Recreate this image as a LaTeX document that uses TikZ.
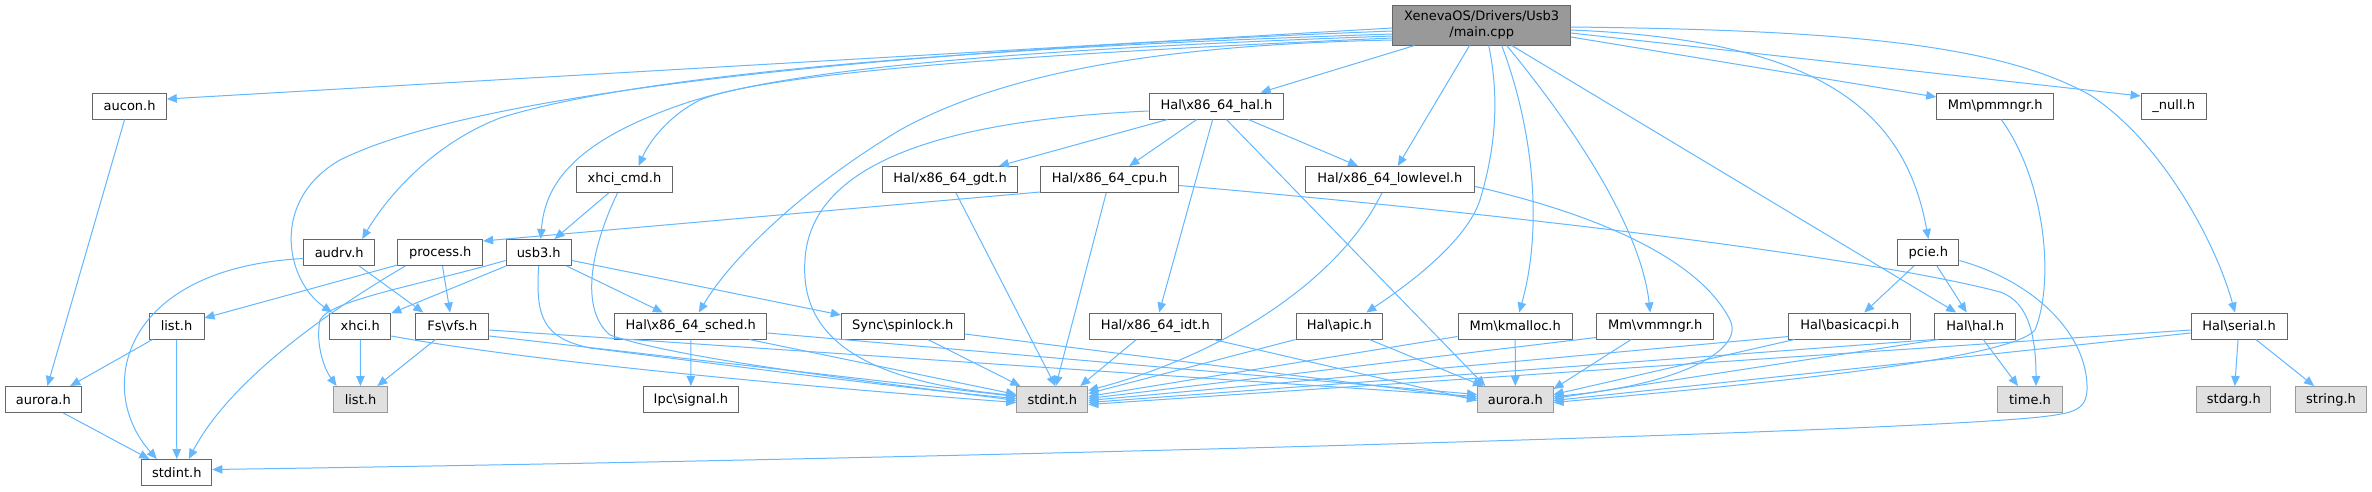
\documentclass[tikz,border=0pt]{standalone}
\usepackage{fontspec}
\setmainfont{DejaVu Sans}
\usetikzlibrary{arrows.meta,calc}
\definecolor{edgeblue}{HTML}{63B8FF}
\definecolor{bordA}{HTML}{666666}
\definecolor{bordB}{HTML}{999999}
\definecolor{fillG}{HTML}{E0E0E0}
\definecolor{fillM}{HTML}{999999}
\newcommand{\mybs}{\textbackslash{}}
\tikzset{
  filenode/.style={draw=bordA, line width=1pt, fill=white, minimum height=26pt,
    inner xsep=2pt, inner ysep=0pt, font=\fontsize{13}{16}\selectfont, text=black},
  sysnode/.style={filenode, draw=bordB, fill=fillG},
  curnode/.style={filenode, fill=fillM, minimum height=40pt, align=center},
  dep/.style={draw=edgeblue, line width=1pt, -{Triangle[length=10pt,width=8.5pt]}},
}
\begin{document}
\begin{tikzpicture}[x=1pt,y=-1pt]
\useasboundingbox (0,0) rectangle (2372,491);
\fill[white] (0,0) rectangle (2372,491);
% row 0
\node[curnode, minimum width=177.5pt] (main) at (1481.7,25) {XenevaOS/Drivers/Usb3\\/main.cpp};
% row 1
\node[filenode, minimum width=73.4pt] (aucon) at (129.6,106) {aucon.h};
\node[filenode, minimum width=134.7pt] (hal64) at (1216.4,106) {Hal\mybs x86\_64\_hal.h};
\node[filenode, minimum width=117pt] (pmmngr) at (1995.2,106) {Mm\mybs pmmngr.h};
\node[filenode, minimum width=65.2pt] (null) at (2173.7,106) {\_null.h};
% row 2
\node[filenode, minimum width=96pt] (xhcicmd) at (624.5,179.5) {xhci\_cmd.h};
\node[filenode, minimum width=134.6pt] (gdt) at (950,179.5) {Hal/x86\_64\_gdt.h};
\node[filenode, minimum width=137.8pt] (cpu) at (1109.7,179.5) {Hal/x86\_64\_cpu.h};
\node[filenode, minimum width=169.5pt] (lowlevel) at (1389.8,179.5) {Hal/x86\_64\_lowlevel.h};
% row 3
\node[filenode, minimum width=70.5pt] (audrv) at (339.2,252.5) {audrv.h};
\node[filenode, minimum width=84.7pt] (process) at (440.3,252.5) {process.h};
\node[filenode, minimum width=65.4pt] (usb3) at (538.7,252.5) {usb3.h};
\node[filenode, minimum width=61pt] (pcie) at (1928.4,252.5) {pcie.h};
% row 4
\node[filenode, minimum width=55pt] (listW) at (176.5,326) {list.h};
\node[filenode, minimum width=61.2pt] (xhci) at (360.2,326) {xhci.h};
\node[filenode, minimum width=73pt] (vfs) at (452.3,326) {Fs\mybs vfs.h};
\node[filenode, minimum width=152pt] (sched) at (690.8,326) {Hal\mybs x86\_64\_sched.h};
\node[filenode, minimum width=123pt] (spinlock) at (902.8,326) {Sync\mybs spinlock.h};
\node[filenode, minimum width=131.2pt] (idt) at (1155.4,326) {Hal/x86\_64\_idt.h};
\node[filenode, minimum width=86.6pt] (apic) at (1339.3,326) {Hal\mybs apic.h};
\node[filenode, minimum width=114.4pt] (kmalloc) at (1515.2,326) {Mm\mybs kmalloc.h};
\node[filenode, minimum width=117.3pt] (vmmngr) at (1655.2,326) {Mm\mybs vmmngr.h};
\node[filenode, minimum width=121.8pt] (basicacpi) at (1849.8,326) {Hal\mybs basicacpi.h};
\node[filenode, minimum width=81pt] (halh) at (1975.2,326) {Hal\mybs hal.h};
\node[filenode, minimum width=96pt] (serial) at (2239,326) {Hal\mybs serial.h};
% row 5
\node[filenode, minimum width=76.6pt] (auroraW) at (43.4,399.5) {aurora.h};
\node[sysnode, minimum width=54.8pt] (listG) at (360.5,399.5) {list.h};
\node[filenode, minimum width=95.8pt] (signal) at (690.9,399.5) {Ipc\mybs signal.h};
\node[sysnode, minimum width=71pt] (stdintG) at (1052.3,399.5) {stdint.h};
\node[sysnode, minimum width=75.4pt] (auroraG) at (1515.3,399.5) {aurora.h};
\node[sysnode, minimum width=64.2pt] (time) at (2030,399.5) {time.h};
\node[sysnode, minimum width=74.2pt] (stdarg) at (2233.8,399.5) {stdarg.h};
\node[sysnode, minimum width=70.7pt] (string) at (2331,399.5) {string.h};
% row 6
\node[filenode, minimum width=70pt] (stdintW) at (176.8,472.5) {stdint.h};

% ---- edges from main.cpp
\draw[dep] ($(main.west)+(0,3)$) -- ($(aucon.east)+(0,-7)$);
\draw[dep] ($(main.west)+(0,6)$) .. controls (900,50) and (480,90) .. (340,160) .. controls (270,200) and (285,280) .. ($(xhci.north west)+(3,0)$);
\draw[dep] ($(main.west)+(0,9)$) .. controls (900,50) and (620,80) .. (500,118) .. controls (430,145) and (385,200) .. ($(audrv.north)+(23,0)$);
\draw[dep] ($(main.west)+(0,11)$) .. controls (1000,50) and (780,70) .. (680,105) .. controls (580,140) and (545,180) .. ($(usb3.north)+(2,0)$);
\draw[dep] ($(main.west)+(0,13)$) .. controls (1000,55) and (760,75) .. (700,100) .. controls (670,115) and (650,140) .. ($(xhcicmd.north)+(14,0)$);
\draw[dep] ($(main.west)+(0,15)$) .. controls (1150,45) and (1000,75) .. (900,130) .. controls (800,190) and (730,260) .. ($(sched.north)+(8,0)$);
\draw[dep] (main) -- (hal64);
\draw[dep] (main) -- (lowlevel);
\draw[dep] ($(main.south)+(7,0)$) .. controls (1500,100) and (1495,150) .. (1480,200) .. controls (1465,245) and (1400,290) .. ($(apic.north)+(27,0)$);
\draw[dep] ($(main.south)+(20,0)$) .. controls (1530,120) and (1545,220) .. ($(kmalloc.north)+(4,0)$);
\draw[dep] ($(main.south)+(25,0)$) .. controls (1560,110) and (1640,220) .. ($(vmmngr.north)+(-5,0)$);
\draw[dep] ($(main.south)+(30,0)$) -- ($(halh.north)+(-19,0)$);
\draw[dep] ($(main.east)+(0,5)$) .. controls (1820,40) and (1905,110) .. (pcie.north);
\draw[dep] ($(main.east)+(0,12)$) -- ($(pmmngr.west)+(0,-9)$);
\draw[dep] ($(main.east)+(0,8)$) -- ($(null.west)+(0,-10)$);
\draw[dep] ($(main.east)+(0,2)$) .. controls (1850,30) and (2000,45) .. (2090,95) .. controls (2160,140) and (2215,240) .. ($(serial.north)+(-4,0)$);

% ---- Hal\x86_64_hal.h
\draw[dep] (hal64) -- (gdt);
\draw[dep] (hal64) -- (cpu);
\draw[dep] (hal64) -- (lowlevel);
\draw[dep] (hal64) -- (idt);
\draw[dep] ($(hal64.west)+(0,5)$) .. controls (950,120) and (820,160) .. (806,250) .. controls (795,330) and (850,380) .. ($(stdintG.west)+(0,-4)$);
\draw[dep] ($(hal64.south)+(10,0)$) -- ($(auroraG.north)+(-30,0)$);

% ---- cpu, gdt, lowlevel
\draw[dep] ($(cpu.south west)+(0,-1)$) -- ($(process.north east)+(0,2)$);
\draw[dep] (cpu) -- (stdintG);
\draw[dep] ($(cpu.east)+(0,6)$) .. controls (1600,222) and (1900,265) .. (2000,292) .. controls (2030,302) and (2036,340) .. ($(time.north)+(6,0)$);
\draw[dep] ($(gdt.south)+(6,0)$) -- ($(stdintG.north)+(3,0)$);
\draw[dep] ($(lowlevel.south)+(-8,0)$) .. controls (1345,270) and (1240,350) .. ($(stdintG.east)+(0,-9)$);
\draw[dep] ($(lowlevel.east)+(0,7)$) .. controls (1600,215) and (1700,260) .. (1730,320) .. controls (1745,350) and (1680,385) .. ($(auroraG.east)+(0,-3)$);

% ---- xhci_cmd.h, usb3.h
\draw[dep] (xhcicmd) -- (usb3);
\draw[dep] ($(xhcicmd.south)+(-7,0)$) .. controls (590,250) and (580,310) .. (610,335) .. controls (680,360) and (900,385) .. ($(stdintG.west)+(0,1)$);
\draw[dep] ($(usb3.west)+(0,8)$) .. controls (420,285) and (330,300) .. (320,320) .. controls (315,345) and (325,370) .. ($(listG.north west)+(4,0)$);
\draw[dep] (usb3) -- (xhci);
\draw[dep] (usb3.south) .. controls (535,320) and (545,338) .. (590,348) .. controls (750,368) and (900,388) .. ($(stdintG.west)+(0,-1)$);
\draw[dep] (usb3) -- (sched);
\draw[dep] ($(usb3.east)+(0,8)$) -- ($(spinlock.west)+(0,-11)$);

% ---- audrv.h, process.h
\draw[dep] ($(audrv.west)+(0,6)$) .. controls (120,268) and (95,390) .. ($(stdintW.north)+(-20,0)$);
\draw[dep] ($(audrv.south)+(20,0)$) -- ($(vfs.north)+(-29,0)$);
\draw[dep] ($(process.south west)+(0,-1)$) -- ($(listW.east)+(0,-8)$);
\draw[dep] ($(process.south)+(-35,0)$) .. controls (330,310) and (230,380) .. ($(stdintW.north)+(12,0)$);
\draw[dep] (process) -- (vfs);

% ---- aucon.h, list.h, aurora.h (left)
\draw[dep] ($(aucon.south)+(-5,0)$) -- ($(auroraW.north)+(4,0)$);
\draw[dep] ($(listW.south west)+(4,0)$) -- ($(auroraW.north east)+(-12,0)$);
\draw[dep] (listW) -- (stdintW);
\draw[dep] ($(auroraW.south)+(20,0)$) -- ($(stdintW.north west)+(8,0)$);

% ---- xhci.h, vfs.h, sched.h, spinlock.h
\draw[dep] (xhci) -- (listG);
\draw[dep] ($(xhci.east)+(0,10)$) .. controls (550,365) and (850,390) .. ($(stdintG.west)+(0,3)$);
\draw[dep] (vfs) -- (listG);
\draw[dep] ($(vfs.east)+(0,4)$) -- ($(auroraG.west)+(0,-3)$);
\draw[dep] ($(vfs.east)+(0,10)$) -- ($(stdintG.west)+(0,-3)$);
\draw[dep] (sched) -- (signal);
\draw[dep] ($(sched.south east)+(-18,0)$) -- ($(stdintG.west)+(0,-5)$);
\draw[dep] ($(sched.east)+(0,7)$) -- ($(auroraG.west)+(0,-5)$);
\draw[dep] ($(spinlock.south)+(25,0)$) -- ($(stdintG.north west)+(4,0)$);
\draw[dep] ($(spinlock.east)+(0,8)$) -- ($(auroraG.west)+(0,-1)$);

% ---- idt, apic, kmalloc, vmmngr
\draw[dep] ($(idt.south)+(-19,0)$) -- ($(stdintG.north east)+(-8,0)$);
\draw[dep] ($(idt.south east)+(-8,0)$) -- ($(auroraG.west)+(0,1)$);
\draw[dep] (apic.south west) -- ($(stdintG.east)+(0,-6)$);
\draw[dep] ($(apic.south)+(30,0)$) -- ($(auroraG.north west)+(6,0)$);
\draw[dep] ($(kmalloc.south west)+(0,-3)$) -- ($(stdintG.east)+(0,-3)$);
\draw[dep] (kmalloc) -- (auroraG);
\draw[dep] ($(vmmngr.south west)+(0,-2)$) -- ($(stdintG.east)+(0,-1)$);
\draw[dep] ($(vmmngr.south)+(-24,0)$) -- ($(auroraG.north east)+(0,3)$);

% ---- basicacpi, hal.h, serial
\draw[dep] ($(basicacpi.south west)+(0,-3)$) -- ($(stdintG.east)+(0,1)$);
\draw[dep] ($(basicacpi.south west)+(6,0)$) -- ($(auroraG.east)+(0,-5)$);
\draw[dep] (halh.south west) -- ($(stdintG.east)+(0,3)$);
\draw[dep] ($(halh.south west)+(4,0)$) -- ($(auroraG.east)+(0,-1)$);
\draw[dep] ($(halh.south)+(8,0)$) -- ($(time.north)+(-12,0)$);
\draw[dep] ($(serial.west)+(0,4)$) -- ($(stdintG.east)+(0,5)$);
\draw[dep] ($(serial.west)+(0,7)$) -- ($(auroraG.east)+(0,1)$);
\draw[dep] (serial) -- (stdarg);
\draw[dep] (serial) -- (string);

% ---- pmmngr, pcie
\draw[dep] ($(pmmngr.south)+(6,0)$) .. controls (2045,180) and (2055,280) .. (2035,330) .. controls (2010,360) and (1750,385) .. ($(auroraG.east)+(0,3)$);
\draw[dep] (pcie) -- (basicacpi);
\draw[dep] (pcie) -- (halh);
\draw[dep] ($(pcie.east)+(0,8)$) .. controls (2030,280) and (2085,330) .. (2087,385) .. controls (2088,410) and (2075,413) .. (2040,417) .. controls (1900,432) and (1000,458) .. ($(stdintW.east)+(0,-3)$);
\end{tikzpicture}
\end{document}
